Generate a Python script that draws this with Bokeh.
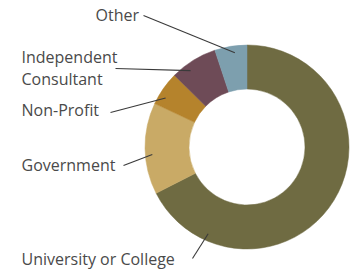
import math
from bokeh.plotting import figure
from bokeh.models import Range1d, ColumnDataSource
from bokeh.core.properties import value
from bokeh.embed import file_html
from bokeh.resources import INLINE

# Data (clockwise from 12 o'clock)
categories = ["University  or College", "Government", "Non-Profit", "Independent\nConsultant", "Other"]
shares = [67.5, 14.5, 5.4, 7.5, 5.1]
colors = ["#6f6b42", "#c9aa66", "#b5832c", "#6e4b57", "#7d9fae"]

W, H = 352, 272
p = figure(width=W, height=H, output_backend="svg", toolbar_location=None,
           x_range=Range1d(0, W), y_range=Range1d(0, H), min_border=0)
p.axis.visible = False
p.grid.visible = False
p.outline_line_color = None
p.background_fill_color = "white"
p.border_fill_color = "white"

def px(x):
    return x
def py(y):
    return H - y

cx, cy = px(246.5), py(146.5)
r_in, r_out = 58, 102

total = sum(shares)
starts, ends = [], []
cum = 0.0
for s in shares:
    starts.append(math.pi / 2 - 2 * math.pi * cum / total)
    cum += s
    ends.append(math.pi / 2 - 2 * math.pi * cum / total)

src = ColumnDataSource(dict(start=starts, end=ends, color=colors, cat=categories))
p.annular_wedge(x=cx, y=cy, inner_radius=r_in, outer_radius=r_out,
                start_angle="start", end_angle="end", direction="clock",
                fill_color="color", line_color="color", line_width=0.5, source=src)

# label layout (page coords): text left x, text center y, leader start, anchor fraction in slice
label_x = [21, 21, 21, 21, 95]
label_y = [258, 164, 109, 67, 14]
lead_start = [(192, 258), (123, 165), (110, 112), (115, 68), (143, 15)]
anchor_frac = [0.84, 0.43, 0.3, 0.33, 0.6]
r_anchor = 95

xs, ys = [], []
for i in range(len(shares)):
    a = starts[i] + (ends[i] - starts[i]) * anchor_frac[i]
    ex = cx + r_anchor * math.cos(a)
    ey = cy + r_anchor * math.sin(a)
    sx, sy = lead_start[i]
    xs.append([px(sx), ex])
    ys.append([py(sy), ey])
p.multi_line(xs=xs, ys=ys, line_color="#3a3a3a", line_width=1.1)

p.text(x=[px(v) for v in label_x], y=[py(v) for v in label_y], text=categories,
       text_font=value("Open Sans"), text_font_size="16px", text_color="#4a4a4a",
       text_baseline="middle", text_align="left", text_line_height=1.0)

open("out.html", "w").write(file_html(p, INLINE))
